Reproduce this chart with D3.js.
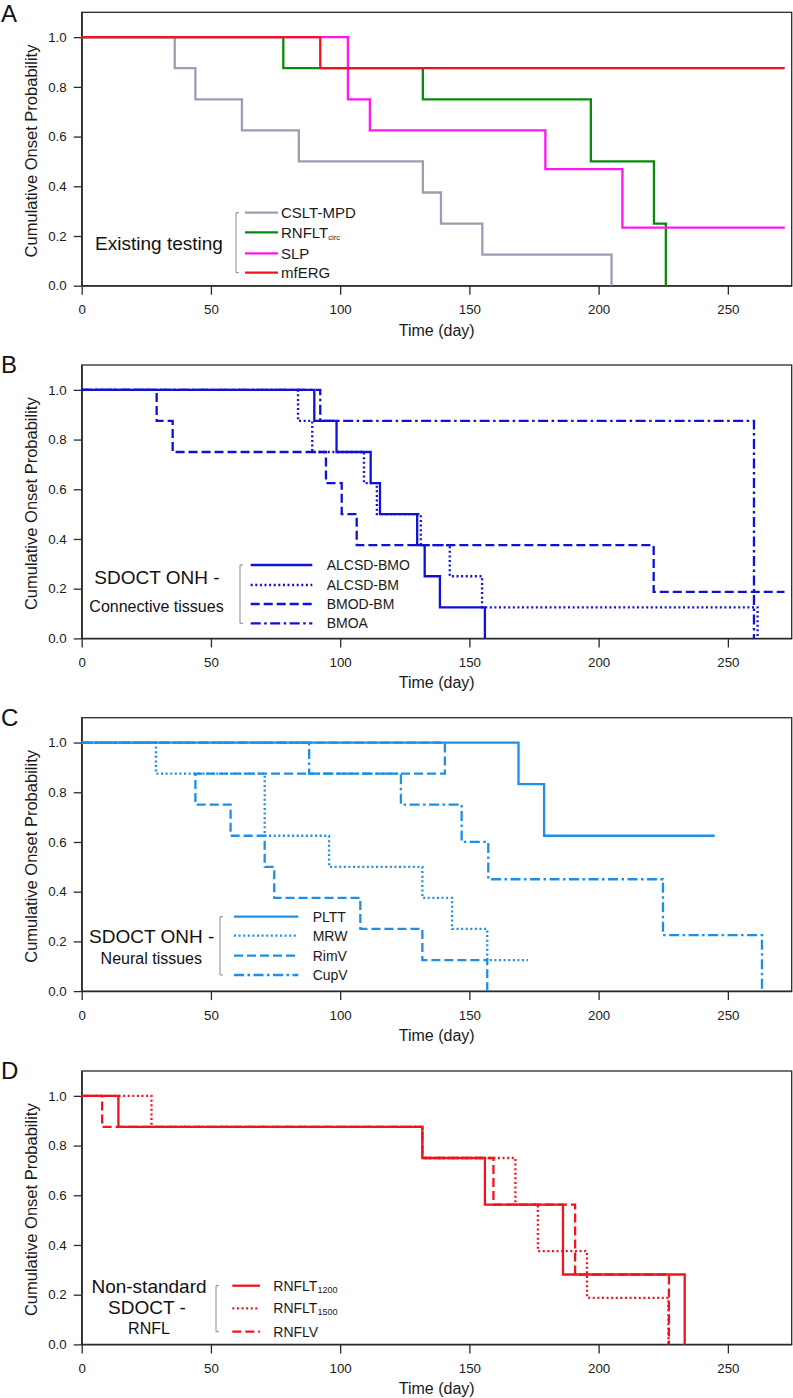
<!DOCTYPE html>
<html>
<head>
<meta charset="utf-8">
<script src="https://cdn.jsdelivr.net/npm/d3@7"></script>
<style>
  html, body { margin: 0; padding: 0; background: #fff; }
  svg { display: block; font-family: "Liberation Sans", Arial, sans-serif; }
</style>
</head>
<body>
<svg id="chart" width="793" height="1398"></svg>
<script>
// ---------- DATA (time in days, cumulative onset probability) ----------
const xTicks = [0, 50, 100, 150, 200, 250];
const yTicks = [0, 0.2, 0.4, 0.6, 0.8, 1.0];

// Panel A: Existing testing
const csltT = [0, 36, 44, 62, 84, 132, 139, 155, 205];
const csltP = [1, 0.875, 0.75, 0.625, 0.5, 0.375, 0.25, 0.125, 0];
const rnfltCircT = [0, 78, 132, 197, 221.4, 226];
const rnfltCircP = [1, 0.875, 0.75, 0.5, 0.25, 0];
const slpT = [0, 103, 111.5, 179.4, 209.2, 272];
const slpP = [1, 0.75, 0.625, 0.469, 0.234, 0.234];
const mfergT = [0, 92.3, 272];
const mfergP = [1, 0.875, 0.875];

// Panel B: SDOCT ONH - Connective tissues
const alcsdBmoT = [0, 90, 98.6, 111.8, 115.4, 129.8, 132.7, 138.6, 156];
const alcsdBmoP = [1, 0.875, 0.75, 0.625, 0.5, 0.375, 0.25, 0.125, 0];
const alcsdBmT = [0, 83.7, 89.2, 109.2, 114.2, 131.2, 142.4, 154.9, 261.5];
const alcsdBmP = [1, 0.875, 0.75, 0.625, 0.5, 0.375, 0.25, 0.125, 0];
const bmodBmT = [0, 29, 35.2, 94.5, 100.6, 106.4, 221.3, 271.9];
const bmodBmP = [1, 0.875, 0.75, 0.625, 0.5, 0.375, 0.1875, 0.1875];
const bmoaT = [0, 92.3, 260.1];
const bmoaP = [1, 0.875, 0];

// Panel C: SDOCT ONH - Neural tissues
const plttT = [0, 169, 178.9, 244.9];
const plttP = [1, 0.833, 0.625, 0.625];
const mrwT = [0, 28.7, 70.8, 95.7, 131.8, 143.3, 156.9, 172.7];
const mrwP = [1, 0.875, 0.625, 0.5, 0.375, 0.25, 0.125, 0.125];
const rimvT = [0, 140.5, 44, 57.6, 70.8, 74.5, 107.8, 131.8, 156.9];
const rimvP = [1, 0.875, 0.75, 0.625, 0.5, 0.375, 0.25, 0.125, 0];
const cupvT = [0, 88, 123.5, 147, 157.3, 224.9, 263.2];
const cupvP = [1, 0.875, 0.75, 0.6, 0.45, 0.225, 0];

// Panel D: Non-standard SDOCT - RNFL
const rnflt1200T = [0, 14.2, 131.8, 156, 186.2, 233.3];
const rnflt1200P = [1, 0.875, 0.75, 0.5625, 0.28125, 0];
const rnflt1500T = [0, 27, 131.8, 167.8, 176.5, 195.5, 227];
const rnflt1500P = [1, 0.875, 0.75, 0.5625, 0.375, 0.1875, 0];
const rnflvT = [0, 7.9, 131.8, 159.3, 190.9, 227.2];
const rnflvP = [1, 0.875, 0.75, 0.5625, 0.28125, 0];

// ---------- STYLE ----------
const DASH = { solid: null, dotted: "2,2.6", dashed: "9,4", dashdot: "10,3.5,2.5,3.5" };
const FONT = '"Liberation Sans", Arial, sans-serif';

const panels = [
  { letter: "A", top: 12.3, letterY: 22,
    series: [
      { name: "CSLT-MPD", t: csltT, p: csltP, color: "#9c9cb2", dash: "solid" },
      { name: "RNFLT", sub: "circ", t: rnfltCircT, p: rnfltCircP, color: "#0a8a0a", dash: "solid" },
      { name: "SLP", t: slpT, p: slpP, color: "#ff17f0", dash: "solid" },
      { name: "mfERG", t: mfergT, p: mfergP, color: "#f0141e", dash: "solid" }
    ],
    legend: { bracketX: 236, lineX0: 245, lineX1: 278, textX: 281, rows: [200.4, 220, 241, 260.4], fs: 15, subFs: 7.5 },
    title: [{ text: "Existing testing", x: 159, y: 230.4, fs: 19 }]
  },
  { letter: "B", top: 365, letterY: 373,
    series: [
      { name: "ALCSD-BMO", t: alcsdBmoT, p: alcsdBmoP, color: "#1010d8", dash: "solid" },
      { name: "ALCSD-BM", t: alcsdBmT, p: alcsdBmP, color: "#1010d8", dash: "dotted" },
      { name: "BMOD-BM", t: bmodBmT, p: bmodBmP, color: "#1010d8", dash: "dashed" },
      { name: "BMOA", t: bmoaT, p: bmoaP, color: "#1010d8", dash: "dashdot" }
    ],
    legend: { bracketX: 240, lineX0: 250.7, lineX1: 312.3, textX: 326.7, rows: [200, 220, 239, 258.3], fs: 14 },
    title: [{ text: "SDOCT ONH -", x: 157, y: 211.7, fs: 19 },
            { text: "Connective tissues", x: 156.5, y: 241.7, fs: 16 }]
  },
  { letter: "C", top: 717.7, letterY: 725.7,
    series: [
      { name: "PLTT", t: plttT, p: plttP, color: "#1e8fe6", dash: "solid" },
      { name: "MRW", t: mrwT, p: mrwP, color: "#1e8fe6", dash: "dotted" },
      { name: "RimV", t: rimvT, p: rimvP, color: "#1e8fe6", dash: "dashed" },
      { name: "CupV", t: cupvT, p: cupvP, color: "#1e8fe6", dash: "dashdot" }
    ],
    legend: { bracketX: 220, lineX0: 234, lineX1: 298.3, textX: 312.7, rows: [199, 218, 238, 257.3], fs: 14 },
    title: [{ text: "SDOCT ONH -", x: 151.7, y: 218.3, fs: 19 },
            { text: "Neural tissues", x: 151.3, y: 240.6, fs: 16 }]
  },
  { letter: "D", top: 1071, letterY: 1079,
    series: [
      { name: "RNFLT", sub: "1200", t: rnflt1200T, p: rnflt1200P, color: "#f0141e", dash: "solid" },
      { name: "RNFLT", sub: "1500", t: rnflt1500T, p: rnflt1500P, color: "#f0141e", dash: "dotted" },
      { name: "RNFLV", t: rnflvT, p: rnflvP, color: "#f0141e", dash: "dashed" }
    ],
    legend: { bracketX: 216, lineX0: 232.3, lineX1: 260, textX: 273.3, rows: [214.7, 237.3, 260.7], fs: 14, subFs: 9 },
    title: [{ text: "Non-standard", x: 149, y: 214.7, fs: 19 },
            { text: "SDOCT -", x: 147, y: 235.7, fs: 19 },
            { text: "RNFL", x: 149, y: 257.3, fs: 16 }]
  }
];

// ---------- LAYOUT ----------
const svg = d3.select("#chart");
const left = 81.7, right = 791.7, plotH = 273.4;
const x = d3.scaleLinear().domain([0, 274.7]).range([left, right]);

panels.forEach(pn => {
  const g = svg.append("g").attr("transform", `translate(0,${pn.top})`);
  const y = d3.scaleLinear().domain([0, 1.1]).range([plotH, 0]);

  // frame
  g.append("rect").attr("x", left).attr("y", 0)
    .attr("width", right - left).attr("height", plotH)
    .attr("fill", "none").attr("stroke", "#2a2a2a").attr("stroke-width", 1.3);

  // axes
  const xAxis = g.append("g").attr("transform", `translate(0,${plotH})`)
    .call(d3.axisBottom(x).tickValues(xTicks).tickSize(9).tickPadding(10).tickSizeOuter(0));
  const yAxis = g.append("g").attr("transform", `translate(${left},0)`)
    .call(d3.axisLeft(y).tickValues(yTicks).tickFormat(d3.format(".1f")).tickSize(8).tickPadding(7).tickSizeOuter(0));
  [xAxis, yAxis].forEach(a => {
    a.select(".domain").attr("stroke", "#2a2a2a").attr("stroke-width", 1.3);
    a.selectAll(".tick line").attr("stroke", "#2a2a2a").attr("stroke-width", 1.3);
    a.selectAll(".tick text").attr("font-family", FONT).attr("font-size", 13.3).attr("fill", "#1a1a1a");
  });

  // axis titles
  g.append("text").attr("x", (left + right) / 2).attr("y", plotH + 50)
    .attr("text-anchor", "middle").attr("font-size", 16).attr("fill", "#1a1a1a")
    .text("Time (day)");
  g.append("text")
    .attr("transform", `translate(37,${plotH / 2 + 2}) rotate(-90)`)
    .attr("text-anchor", "middle").attr("font-size", 16.5).attr("fill", "#1a1a1a")
    .text("Cumulative Onset Probability");

  // panel letter
  svg.append("text").attr("x", 1).attr("y", pn.letterY)
    .attr("font-size", 24).attr("fill", "#111").text(pn.letter);

  // curves
  const line = d3.line().x(d => x(d[0])).y(d => y(d[1])).curve(d3.curveStepAfter);
  pn.series.forEach(s => {
    const pts = s.t.map((t, i) => [t, s.p[i]]);
    g.append("path").datum(pts).attr("d", line)
      .attr("fill", "none").attr("stroke", s.color).attr("stroke-width", 2.3)
      .attr("stroke-dasharray", DASH[s.dash]);
  });

  // legend
  const L = pn.legend;
  const rTop = L.rows[0], rBot = L.rows[L.rows.length - 1];
  g.append("path")
    .attr("d", `M${L.bracketX + 3},${rTop} H${L.bracketX} V${rBot} H${L.bracketX + 3}`)
    .attr("fill", "none").attr("stroke", "#8a8a8a").attr("stroke-width", 1);
  pn.series.forEach((s, i) => {
    const ry = L.rows[i];
    g.append("line").attr("x1", L.lineX0).attr("x2", L.lineX1).attr("y1", ry).attr("y2", ry)
      .attr("stroke", s.color).attr("stroke-width", 2.3).attr("stroke-dasharray", DASH[s.dash]);
    const tx = g.append("text").attr("x", L.textX).attr("y", ry + L.fs * 0.36)
      .attr("font-size", L.fs).attr("fill", "#1a1a1a").text(s.name);
    if (s.sub) {
      tx.append("tspan").attr("font-size", L.subFs).attr("dy", 2).text(s.sub);
    }
  });

  pn.title.forEach(tt => {
    g.append("text").attr("x", tt.x).attr("y", tt.y + tt.fs * 0.36)
      .attr("text-anchor", "middle").attr("font-size", tt.fs).attr("fill", "#111")
      .text(tt.text);
  });
});
</script>
</body>
</html>
